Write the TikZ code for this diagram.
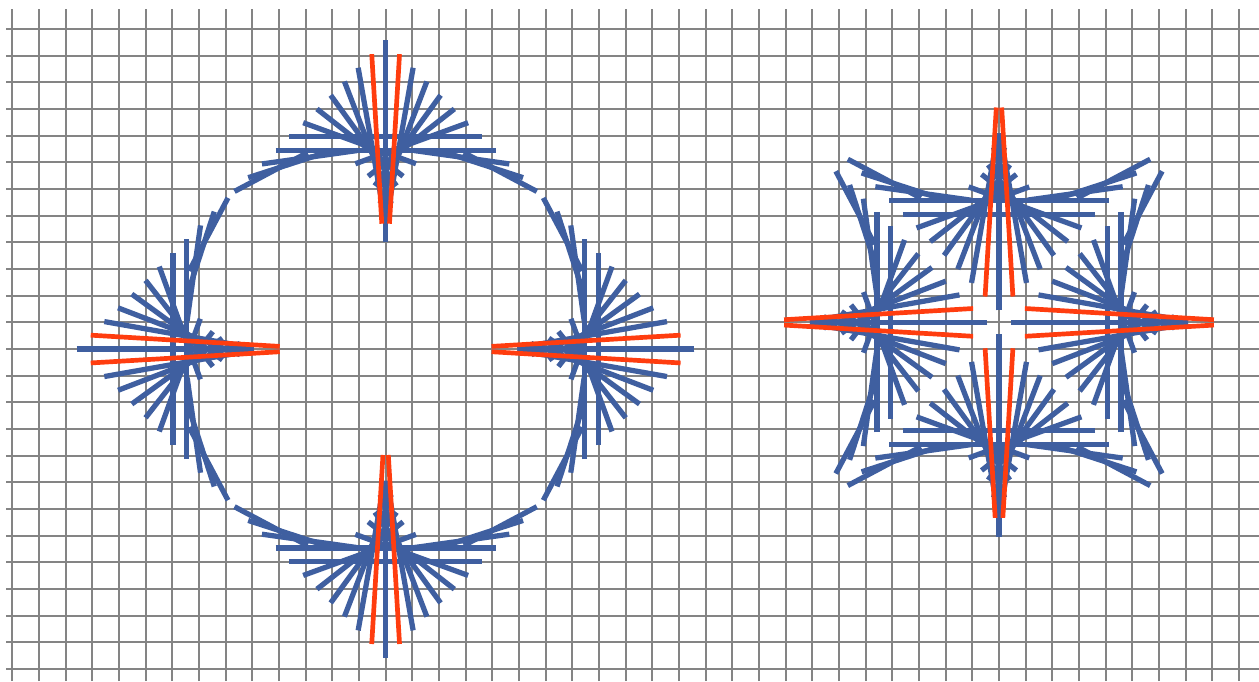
\documentclass[tikz,border=0pt]{standalone}
\usepackage{tikz}
\definecolor{GridGray}{RGB}{132,132,132}
\definecolor{SpokeBlue}{RGB}{63,95,160}
\definecolor{SpokeRed}{RGB}{255,61,15}

\begin{document}
\begin{tikzpicture}[x=0.5cm, y=0.5cm,
        gridline/.style={GridGray, line width=1.1pt},
        spoke/.style={SpokeBlue, line width=2.8pt},
        redspoke/.style={SpokeRed, line width=2.5pt}]
        \useasboundingbox[fill=white] (-0.461,-0.45) rectangle (46.75,25.09);
        \foreach \j in {0,...,24} {
            \draw[gridline] (-0.236,\j) -- (46.75,\j);
        }
        \foreach \i in {0,...,46} {
            \draw[gridline] (\i,-0.45) -- (\i,24.75);
        }
        \def\rad{11.58}
        \foreach \cx/\cy/\fs/\fc/\tipvx in {14/12/1/0/0, 37/13/-1/12.03/180} {
            \foreach \rot in {0,90,180,270} {
                \foreach \sg in {1,-1} {
                    \begin{scope}[shift={(\cx,\cy)}, rotate=\rot, xscale=\sg, shift={(0,\fc)}, yscale=\fs]
                        \pgfmathsetmacro\bl{(\rot==\tipvx) ? 4.0 : 5.1}
                        \draw[spoke] (0,\rad) -- (0,\bl);
                        \foreach \u/\a/\l in {0.089/-80/5.7, 0.1335/-69/4.9, 0.178/-54/4.2, 0.2225/-38/4.1,
                                              0.267/-20/4.5, 0.3115/0/7.1, 0.356/0/8.1, 0.4005/8/3.6,
                                              0.445/18/3.3, 0.4895/28/3.1} {
                            \draw[spoke] ({-\rad*\u},{\rad*(1-\u)}) -- ++(\a:\l);
                        }
                    \end{scope}
                }
            }
        }
        \foreach \cx/\cy/\fs/\fc/\tipvx in {14/12/1/0/0, 37/13/-1/12.03/180} {
            \foreach \rot in {0,90,180,270} {
                \foreach \sg in {1,-1} {
                    \begin{scope}[shift={(\cx,\cy)}, rotate=\rot, xscale=\sg, shift={(0,\fc)}, yscale=\fs]
                        \pgfmathsetmacro\rl{(\rot==\tipvx) ? 6.37 : 7.1}
                        \draw[redspoke] ({-\rad*0.045},{\rad*0.955}) -- ++(-86.6:\rl);
                    \end{scope}
                }
            }
        }
    \end{tikzpicture}
\end{document}
